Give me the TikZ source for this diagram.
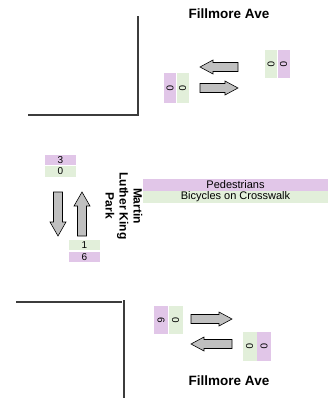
\documentclass[tikz,border=0pt]{standalone}
\usepackage{fontspec}
\setmainfont{Liberation Sans}
\definecolor{pedpink}{RGB}{225,198,232}
\definecolor{bikegreen}{RGB}{226,239,218}
\definecolor{curbgray}{RGB}{60,60,60}
\definecolor{arrowgray}{RGB}{192,192,192}
\tikzset{
  curb/.style={draw=curbgray, line width=1.4pt},
  street/.style={font=\bfseries\fontsize{13.5}{14.5}\selectfont, align=center},
  cnt/.style={inner sep=0pt, font=\fontsize{10}{11}\selectfont},
  pinkc/.style={cnt, fill=pedpink},
  greenc/.style={cnt, fill=bikegreen},
  garrow/.style={draw=black, fill=arrowgray, line width=0.6pt, line join=miter}
}
% block arrow: x, y, angle, half length, half head width, half body width, head length
\newcommand{\blockarrow}[7]{%
  \draw[garrow, shift={(#1,#2)}, rotate=#3]
    (-#4,-#6) -- (#4-#7,-#6) -- (#4-#7,-#5) -- (#4,0) -- (#4-#7,#5)
    -- (#4-#7,#6) -- (-#4,#6) -- cycle;}
\begin{document}
\begin{tikzpicture}[x=1pt, y=-1pt]
    \useasboundingbox (0,0) rectangle (328,404);

    % street corners
    \draw[curb] (28,115) -- (138,115) -- (138,16);
    \draw[curb] (16,302) -- (122,302);
    \draw[curb] (124,300) -- (124,398);

    % street names
    \node (fill-top) at (229,14) [street] {Fillmore Ave};
    \node (fill-bot) at (229,381) [street] {Fillmore Ave};
    \node (mlk) at (124,206) [street, font=\bfseries\fontsize{12}{14}\selectfont, rotate=-90] {Martin\\Luther King\\Park};

    % crosswalk legend
    \node (ped) at (235.5,185) [pinkc, font=\fontsize{11}{12}\selectfont, minimum width=185pt, minimum height=12pt] {Pedestrians};
    \node (bike) at (235.5,197) [greenc, font=\fontsize{11}{12}\selectfont, minimum width=185pt, minimum height=12pt] {Bicycles on Crosswalk};

    % top approach
    \node (t-ped-w) at (170,88) [pinkc, rotate=-90, minimum width=30pt, minimum height=12pt] {0};
    \node (t-bike-w) at (182.5,88) [greenc, rotate=-90, minimum width=30pt, minimum height=12pt] {0};
    \node (t-bike-e) at (271,64) [greenc, rotate=-90, minimum width=28pt, minimum height=12pt] {0};
    \node (t-ped-e) at (283.5,64) [pinkc, rotate=-90, minimum width=28pt, minimum height=12pt] {0};
    \blockarrow{219}{67}{180}{19}{7}{4.5}{13}
    \blockarrow{219}{88}{0}{19}{7}{4.5}{13}

    % left approach
    \node (l-ped-n) at (60.5,160) [pinkc, minimum width=31pt, minimum height=10.5pt] {3};
    \node (l-bike-n) at (60.5,171.5) [greenc, minimum width=31pt, minimum height=11pt] {0};
    \node (l-bike-s) at (84.5,245) [greenc, minimum width=31pt, minimum height=10pt] {1};
    \node (l-ped-s) at (84.5,257) [pinkc, minimum width=31pt, minimum height=10pt] {6};
    \blockarrow{58}{214}{270}{22}{8}{4.5}{14}
    \blockarrow{82}{214}{90}{22}{8}{4.5}{14}

    % bottom approach
    \node (b-ped-w) at (161,320) [pinkc, rotate=-90, minimum width=28pt, minimum height=14pt] {6};
    \node (b-bike-w) at (175.5,320) [greenc, rotate=-90, minimum width=28pt, minimum height=14pt] {0};
    \node (b-bike-e) at (249.5,346.5) [greenc, rotate=-90, minimum width=29pt, minimum height=14pt] {0};
    \node (b-ped-e) at (264,346.5) [pinkc, rotate=-90, minimum width=29pt, minimum height=14pt] {0};
    \blockarrow{211.5}{319}{0}{20.5}{7}{4.5}{13}
    \blockarrow{211.5}{344}{180}{20.5}{7}{4.5}{13}

\end{tikzpicture}
\end{document}
